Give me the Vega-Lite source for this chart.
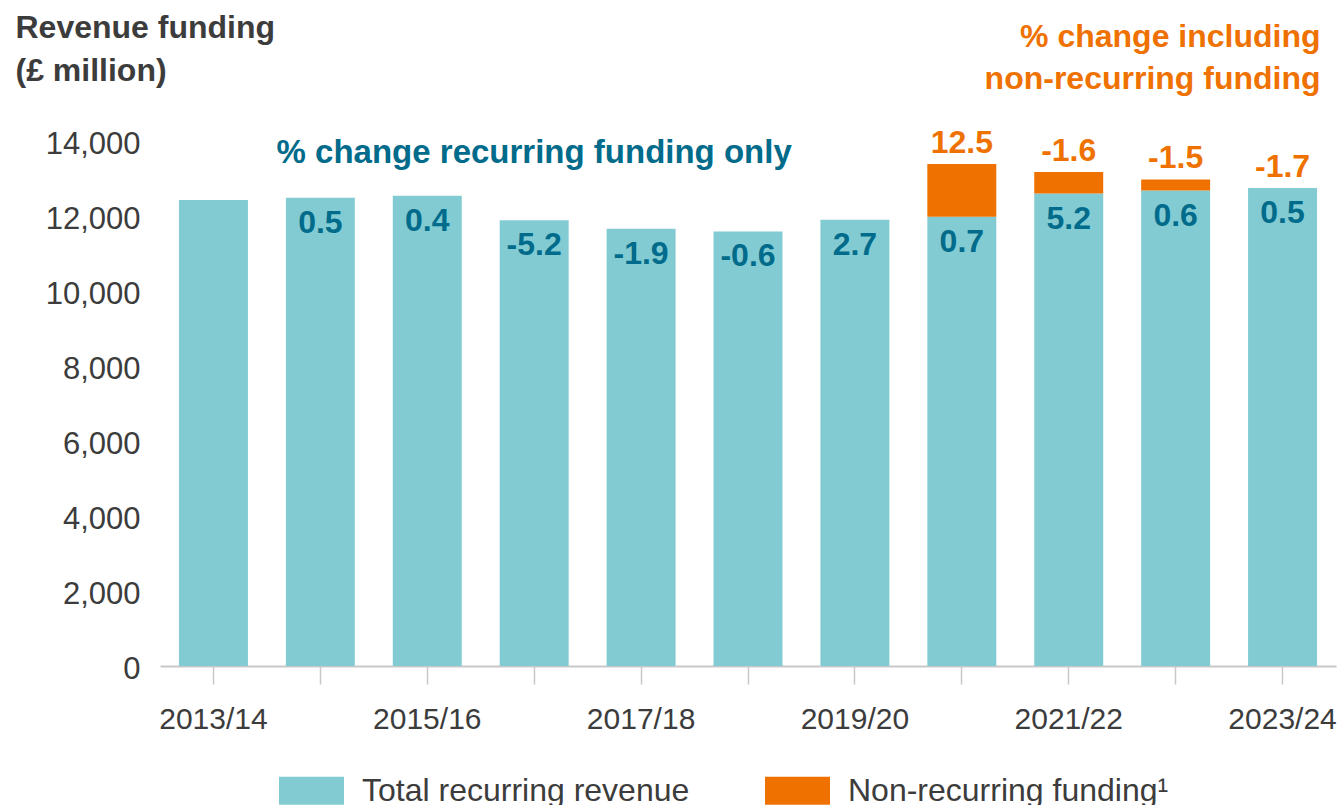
{
  "$schema": "https://vega.github.io/schema/vega-lite/v6.json",
  "width": 1176,
  "height": 525,
  "autosize": {"type": "none"},
  "padding": {"left": 160, "top": 141, "right": 5, "bottom": 139},
  "background": "white",
  "config": {"view": {"stroke": null}, "font": "Liberation Sans"},
  "data": {
    "values": [
      {"year": "2013/14", "recurring": 12430, "total": 12430, "pct_rec": null, "pct_total": null},
      {"year": "2014/15", "recurring": 12490, "total": 12490, "pct_rec": 0.5, "pct_total": null},
      {"year": "2015/16", "recurring": 12540, "total": 12540, "pct_rec": 0.4, "pct_total": null},
      {"year": "2016/17", "recurring": 11890, "total": 11890, "pct_rec": -5.2, "pct_total": null},
      {"year": "2017/18", "recurring": 11660, "total": 11660, "pct_rec": -1.9, "pct_total": null},
      {"year": "2018/19", "recurring": 11590, "total": 11590, "pct_rec": -0.6, "pct_total": null},
      {"year": "2019/20", "recurring": 11900, "total": 11900, "pct_rec": 2.7, "pct_total": null},
      {"year": "2020/21", "recurring": 11980, "total": 13390, "pct_rec": 0.7, "pct_total": 12.5},
      {"year": "2021/22", "recurring": 12600, "total": 13175, "pct_rec": 5.2, "pct_total": -1.6},
      {"year": "2022/23", "recurring": 12680, "total": 12975, "pct_rec": 0.6, "pct_total": -1.5},
      {"year": "2023/24", "recurring": 12750, "total": 12750, "pct_rec": 0.5, "pct_total": -1.7}
    ]
  },
  "layer": [
    {
      "mark": {"type": "bar"},
      "encoding": {
        "x": {
          "field": "year", "type": "nominal", "sort": null,
          "scale": {"paddingInner": 0.355, "paddingOuter": 0.1775},
          "axis": {
            "title": null, "labelAngle": 0,
            "labelExpr": "indexof(['2013/14','2015/16','2017/18','2019/20','2021/22','2023/24'], datum.value) >= 0 ? datum.label : ''",
            "domainColor": "#c8c8c8", "domainWidth": 2,
            "tickColor": "#c8c8c8", "tickWidth": 1.5, "tickSize": 18,
            "labelPadding": 20,
            "labelFontSize": 30, "labelColor": "#3c3c3c"
          }
        },
        "y": {
          "field": "recurring", "type": "quantitative",
          "scale": {"domain": [0, 14000], "nice": false},
          "axis": {
            "values": [0, 2000, 4000, 6000, 8000, 10000, 12000, 14000],
            "format": ",d", "grid": false, "domain": false, "ticks": false, "tickSize": 0,
            "labelPadding": 20, "labelOffset": 3, "labelFontSize": 31, "labelColor": "#3c3c3c",
            "title": ["Revenue funding", "(£ million)"],
            "titleAngle": 0, "titleAlign": "left", "titleBaseline": "alphabetic",
            "titleX": -145, "titleY": -104, "titleLineHeight": 43,
            "titleFontSize": 32, "titleFontWeight": "bold", "titleColor": "#3c3c3c"
          }
        },
        "color": {
          "datum": "Total recurring revenue", "type": "nominal",
          "scale": {"domain": ["Total recurring revenue", "Non-recurring funding¹"], "range": ["#82cbd3", "#ef7100"]},
          "legend": {
            "title": null, "orient": "none", "legendX": 119, "legendY": 617,
            "direction": "horizontal", "columns": 2,
            "symbolType": "M-1,-0.43H1V0.43H-1Z", "symbolSize": 4225,
            "symbolStrokeWidth": 0, "symbolOpacity": 1,
            "labelFontSize": 32,
            "labelColor": "#3c3c3c", "labelOffset": 18, "columnPadding": 75, "labelLimit": 700
          }
        }
      }
    },
    {
      "transform": [{"filter": "datum.total > datum.recurring"}],
      "mark": {"type": "bar"},
      "encoding": {
        "x": {"field": "year", "type": "nominal", "sort": null},
        "y": {"field": "recurring", "type": "quantitative"},
        "y2": {"field": "total"},
        "color": {"datum": "Non-recurring funding¹", "type": "nominal"}
      }
    },
    {
      "transform": [{"filter": "isValid(datum.pct_rec)"}],
      "mark": {"type": "text", "fontSize": 32, "fontWeight": "bold", "color": "#006b8a", "baseline": "alphabetic", "dy": 35},
      "encoding": {
        "x": {"field": "year", "type": "nominal", "sort": null},
        "y": {"field": "recurring", "type": "quantitative"},
        "text": {"field": "pct_rec", "type": "nominal"}
      }
    },
    {
      "transform": [{"filter": "isValid(datum.pct_total)"}],
      "mark": {"type": "text", "fontSize": 32, "fontWeight": "bold", "color": "#ef7100", "baseline": "alphabetic", "dy": -11},
      "encoding": {
        "x": {"field": "year", "type": "nominal", "sort": null},
        "y": {"field": "total", "type": "quantitative"},
        "text": {"field": "pct_total", "type": "nominal"}
      }
    },
    {
      "data": {"values": [{"label": "% change recurring funding only"}]},
      "mark": {"type": "text", "fontSize": 33, "fontWeight": "bold", "color": "#006b8a", "baseline": "alphabetic", "align": "center"},
      "encoding": {
        "x": {"datum": "2016/17", "type": "nominal"},
        "y": {"datum": 13413, "type": "quantitative"},
        "text": {"field": "label", "type": "nominal"}
      }
    },
    {
      "data": {"values": [{"l1": "% change including", "l2": "non-recurring funding"}]},
      "mark": {"type": "text", "fontSize": 32, "fontWeight": "bold", "color": "#ef7100", "baseline": "alphabetic", "align": "right", "dx": 38, "lineHeight": 42},
      "encoding": {
        "x": {"datum": "2023/24", "type": "nominal"},
        "y": {"datum": 16507, "type": "quantitative"},
        "text": {"value": ["% change including", "non-recurring funding"]}
      }
    }
  ]
}
